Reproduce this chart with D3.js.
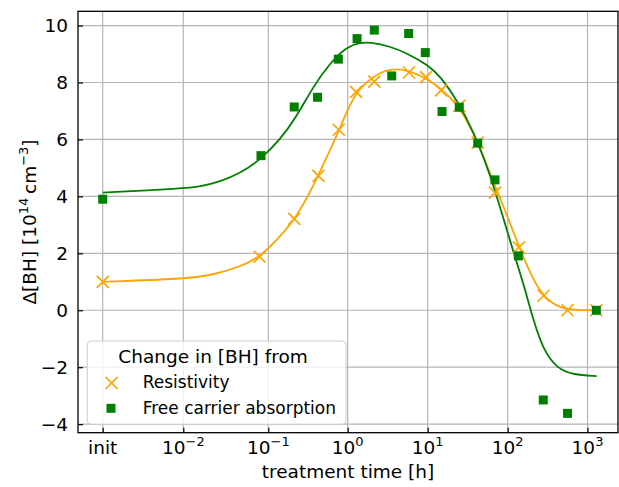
<!DOCTYPE html>
<html>
<head>
<meta charset="utf-8">
<script src="https://cdn.jsdelivr.net/npm/d3@7"></script>
<style>
  body { margin: 0; background: #fff; }
  svg { display: block; font-family: "DejaVu Sans", sans-serif; }
</style>
</head>
<body>
<div id="chart"></div>
<script>
// "init" is put one decade left of 10^-2
const INIT = 1e-3;

// tick values (hours) and their exponent labels
const xTicks = [INIT, 1e-2, 1e-1, 1, 10, 100, 1000];
const xTickExp = [null, "\u22122", "\u22121", "0", "1", "2", "3"];
const yTicks = [-4, -2, 0, 2, 4, 6, 8, 10];

// Resistivity points
const resTime = [INIT, 0.079, 0.212, 0.427, 0.771, 1.27, 2.15, 5.83, 9.53, 14.7, 24.8, 42.2, 69.3, 138, 282, 562, 1290];
const resVal  = [1.0, 1.88, 3.21, 4.72, 6.34, 7.67, 8.03, 8.35, 8.19, 7.72, 7.18, 5.89, 4.13, 2.21, 0.51, 0.0, 0.0];

// Free carrier absorption points
const fcaTime = [INIT, 0.082, 0.212, 0.417, 0.762, 1.31, 2.15, 3.55, 5.78, 9.33, 15.1, 24.8, 42.2, 69.3, 136, 279, 562, 1290];
const fcaVal  = [3.90, 5.43, 7.14, 7.48, 8.82, 9.54, 9.84, 8.23, 9.72, 9.05, 6.98, 7.13, 5.87, 4.58, 1.91, -3.15, -3.62, 0.0];

// fitted curves [time, value]
const resFit = [
  [INIT, 1.0], [0.01, 1.10], [0.0225, 1.24], [0.0465, 1.53], [0.0798, 1.86],
  [0.140, 2.59], [0.217, 3.20], [0.368, 4.34], [0.58, 5.55], [0.784, 6.33],
  [1.23, 7.68], [2.09, 8.21], [3.22, 8.48], [5.46, 8.46], [10, 8.12],
  [14.3, 7.80], [23.1, 7.27], [37.2, 6.28], [60, 4.81], [97.7, 3.35],
  [138, 2.23], [209, 1.06], [279, 0.50], [411, 0.12], [664, 0.0], [1300, 0.0]
];
const fcaFit = [
  [INIT, 4.13], [0.01, 4.28], [0.0157, 4.34], [0.027, 4.52], [0.0465, 4.81],
  [0.0798, 5.28], [0.140, 5.98], [0.2275, 6.80], [0.368, 7.86], [0.598, 8.68],
  [0.971, 9.26], [1.43, 9.40], [1.9, 9.42], [3.38, 9.27], [5.47, 9.03],
  [10, 8.62], [14.3, 8.23], [23.1, 7.39], [37.2, 6.30], [60, 4.81],
  [97.7, 2.82], [118, 2.05], [157, 0.95], [209, -0.34], [279, -1.39],
  [411, -2.04], [664, -2.27], [1300, -2.31]
];

const W = 619, H = 487;
const box = { left: 78, right: 618, top: 11.3, bottom: 432.7 };
const ORANGE = "#ffa500", GREEN = "#008000";

// decades are not quite evenly spaced in the original, so a polylinear scale on log10(t)
const xLog = d3.scaleLinear()
  .domain([-3, -2, -1, 0, 1, 2, 3])
  .range([102.7, 183.3, 268.3, 347.7, 427.7, 507.7, 587.5]);
const x = t => xLog(Math.log10(t));

const y = d3.scaleLinear()
  .domain([-4.3, 10.5])
  .range([box.bottom, box.top]);

const svg = d3.select("#chart").append("svg")
  .attr("width", W)
  .attr("height", H);

svg.append("defs").append("clipPath").attr("id", "clip")
  .append("rect")
  .attr("x", box.left).attr("y", box.top)
  .attr("width", box.right - box.left).attr("height", box.bottom - box.top);

// grid
const grid = svg.append("g").attr("stroke", "#b5b5b5").attr("stroke-width", 1.2);
grid.selectAll("line.v").data(xTicks).join("line")
  .attr("x1", d => x(d)).attr("x2", d => x(d))
  .attr("y1", box.top).attr("y2", box.bottom);
grid.selectAll("line.h").data(yTicks).join("line")
  .attr("x1", box.left).attr("x2", box.right)
  .attr("y1", d => y(d)).attr("y2", d => y(d));

const plot = svg.append("g").attr("clip-path", "url(#clip)");

const line = d3.line()
  .x(d => x(d[0]))
  .y(d => y(d[1]))
  .curve(d3.curveBasis);

plot.append("path").datum(resFit)
  .attr("fill", "none").attr("stroke", ORANGE).attr("stroke-width", 1.8)
  .attr("d", line);
plot.append("path").datum(fcaFit)
  .attr("fill", "none").attr("stroke", GREEN).attr("stroke-width", 1.8)
  .attr("d", line);

const cross = "M-6,-6L6,6M-6,6L6,-6";
plot.selectAll("path.res").data(resTime).join("path")
  .attr("class", "res")
  .attr("d", cross)
  .attr("transform", (t, i) => `translate(${x(t)},${y(resVal[i])})`)
  .attr("stroke", ORANGE).attr("stroke-width", 1.7).attr("fill", "none");

const sq = 9;
plot.selectAll("rect.fca").data(fcaTime).join("rect")
  .attr("class", "fca")
  .attr("x", t => x(t) - sq / 2)
  .attr("y", (t, i) => y(fcaVal[i]) - sq / 2)
  .attr("width", sq).attr("height", sq)
  .attr("fill", GREEN);

// axes (ticks point inward)
const yAxis = svg.append("g")
  .attr("transform", `translate(${box.left},0)`)
  .call(d3.axisLeft(y).tickValues(yTicks).tickSize(-5).tickSizeOuter(0).tickPadding(10));
yAxis.select(".domain").remove();
yAxis.selectAll(".tick line").attr("stroke-width", 1.2);
yAxis.selectAll("text").attr("font-size", 18.5).attr("font-family", "DejaVu Sans").attr("fill", "#000");

const xAxis = svg.append("g")
  .attr("transform", `translate(0,${box.bottom})`)
  .call(d3.axisBottom(xLog).tickValues(xTicks.map(Math.log10)).tickSize(-5).tickSizeOuter(0).tickFormat(""));
xAxis.select(".domain").remove();
xAxis.selectAll(".tick line").attr("stroke-width", 1.2);

const xl = svg.append("g").attr("font-size", 18.5).attr("text-anchor", "middle");
xTicks.forEach((t, i) => {
  const txt = xl.append("text").attr("x", x(t)).attr("y", 454);
  if (xTickExp[i] === null) { txt.text("init"); return; }
  txt.append("tspan").text("10");
  txt.append("tspan").attr("font-size", 13).attr("dy", -8).text(xTickExp[i]);
});

// frame
svg.append("rect")
  .attr("x", box.left).attr("y", box.top)
  .attr("width", box.right - box.left).attr("height", box.bottom - box.top)
  .attr("fill", "none").attr("stroke", "#000").attr("stroke-width", 1.3);

// axis labels
svg.append("text")
  .attr("x", (box.left + box.right) / 2).attr("y", 478)
  .attr("text-anchor", "middle").attr("font-size", 18.5)
  .text("treatment time [h]");

const yl = svg.append("text")
  .attr("transform", `translate(36,${(box.top + box.bottom) / 2}) rotate(-90)`)
  .attr("text-anchor", "middle").attr("font-size", 18.5);
yl.append("tspan").text("\u0394[BH] [10");
yl.append("tspan").attr("font-size", 13).attr("dy", -8).text("14");
yl.append("tspan").attr("dy", 8).text("\u2009cm");
yl.append("tspan").attr("font-size", 13).attr("dy", -8).text("\u22123");
yl.append("tspan").attr("dy", 8).text("]");

// legend
const lg = svg.append("g");
lg.append("rect")
  .attr("x", 87.3).attr("y", 341).attr("width", 258.7).attr("height", 83.3)
  .attr("rx", 4)
  .attr("fill", "#fff").attr("fill-opacity", 0.8)
  .attr("stroke", "#cccccc").attr("stroke-width", 1);
lg.append("text").attr("x", 118.3).attr("y", 363.3).attr("font-size", 18.5)
  .text("Change in [BH] from");
lg.append("path").attr("d", cross)
  .attr("transform", "translate(111.5,383)")
  .attr("stroke", ORANGE).attr("stroke-width", 1.7).attr("fill", "none");
lg.append("text").attr("x", 142.7).attr("y", 388.3).attr("font-size", 17)
  .text("Resistivity");
lg.append("rect").attr("x", 111 - sq / 2).attr("y", 408.3 - sq / 2)
  .attr("width", sq).attr("height", sq).attr("fill", GREEN);
lg.append("text").attr("x", 142.7).attr("y", 414).attr("font-size", 17)
  .text("Free carrier absorption");
</script>
</body>
</html>
